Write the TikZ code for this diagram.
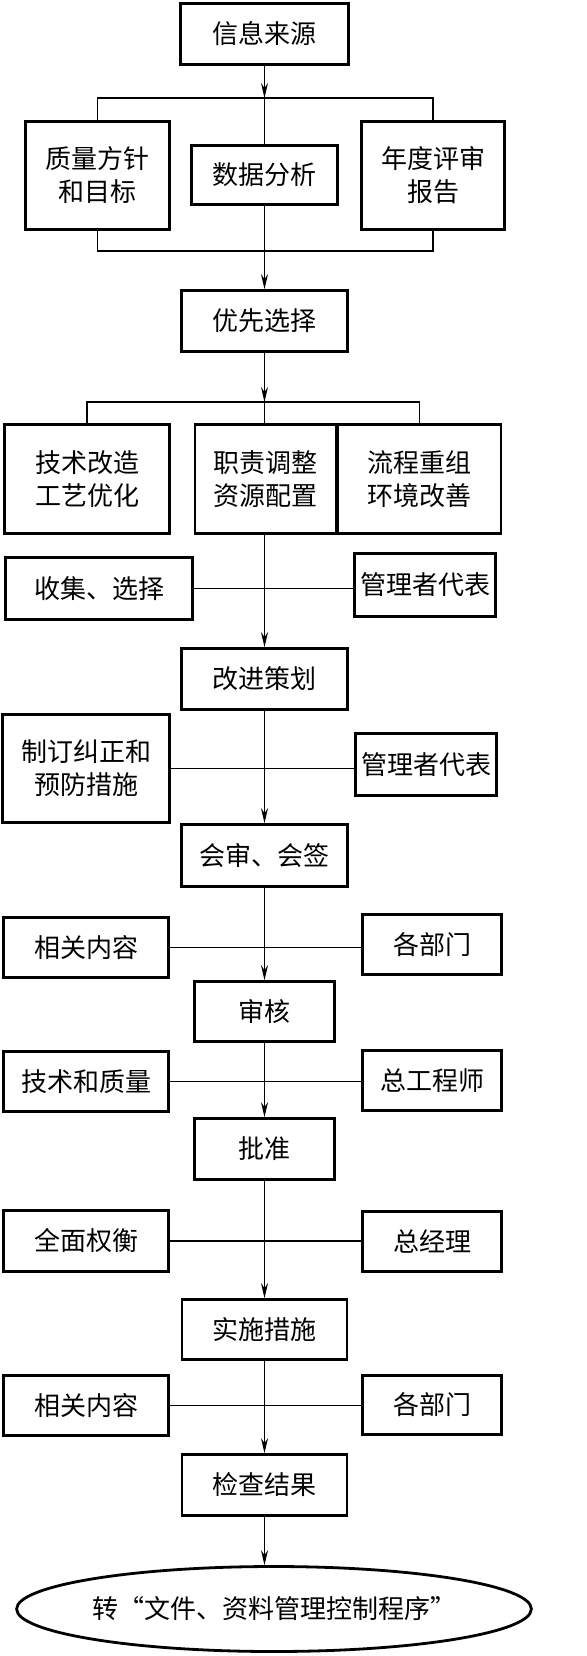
\documentclass[tikz,border=0pt]{standalone}
\usepackage{fontspec}
\newfontfamily\cjk{Noto Sans CJK SC}
\usetikzlibrary{arrows.meta,shapes.geometric}
\begin{document}
\begin{tikzpicture}[x=1pt,y=-1pt,
 box/.style={draw,line width=2.8pt,inner sep=0pt,align=center,font=\cjk\fontsize{26}{33}\selectfont},
 conn/.style={line width=1.2pt},
 arr/.style={conn,-{Stealth[length=15pt,width=7pt,inset=5pt]}}]
\useasboundingbox (0,0) rectangle (586,1656);
% top section
\node[box,minimum width=168pt,minimum height=61pt] (src) at (264.5,34) {信息来源};
\node[box,minimum width=144pt,minimum height=108pt] (q) at (97.5,175.5) {质量方针\\和目标};
\node[box,minimum width=146pt,minimum height=59pt] (d) at (264.5,175) {数据分析};
\node[box,minimum width=143pt,minimum height=108pt] (yr) at (433,175.5) {年度评审\\报告};
\node[box,minimum width=166pt,minimum height=61pt] (pri) at (264.5,321) {优先选择};
\node[box,minimum width=165pt,minimum height=109pt] (t) at (87,479) {技术改造\\工艺优化};
\node[box,minimum width=141pt,minimum height=109pt] (z) at (265.5,479) {职责调整\\资源配置};
\node[box,minimum width=163pt,minimum height=109pt] (l) at (419.5,479) {流程重组\\环境改善};
\node[box,minimum width=187pt,minimum height=62pt] (c1) at (99,588.5) {收集、选择};
\node[box,minimum width=141pt,minimum height=63pt] (m1) at (425,585) {管理者代表};
\node[box,minimum width=166pt,minimum height=61pt] (plan) at (264.5,679) {改进策划};
\node[box,minimum width=167pt,minimum height=108pt] (c2) at (86,768.5) {制订纠正和\\预防措施};
\node[box,minimum width=141pt,minimum height=62pt] (m2) at (426,764.5) {管理者代表};
\node[box,minimum width=166pt,minimum height=62pt] (hs) at (264.5,855.5) {会审、会签};
\node[box,minimum width=165pt,minimum height=60pt] (r1) at (86,947.5) {相关内容};
\node[box,minimum width=139pt,minimum height=60pt] (b1) at (432,944.5) {各部门};
\node[box,minimum width=140pt,minimum height=60pt] (sh) at (264.5,1011.5) {审核};
\node[box,minimum width=165pt,minimum height=60pt] (r2) at (86,1081.5) {技术和质量};
\node[box,minimum width=139pt,minimum height=60pt] (b2) at (432,1080.5) {总工程师};
\node[box,minimum width=140pt,minimum height=61pt] (pz) at (264.5,1149) {批准};
\node[box,minimum width=165pt,minimum height=61pt] (r3) at (86,1241) {全面权衡};
\node[box,minimum width=139pt,minimum height=60pt] (b3) at (432,1241.5) {总经理};
\node[box,minimum width=165pt,minimum height=60pt] (ss) at (264.5,1329.5) {实施措施};
\node[box,minimum width=165pt,minimum height=60pt] (r4) at (86,1405.5) {相关内容};
\node[box,minimum width=139pt,minimum height=59pt] (b4) at (432,1405) {各部门};
\node[box,minimum width=165pt,minimum height=61pt] (jc) at (264.5,1485) {检查结果};
\node[box,ellipse,minimum width=489pt,minimum height=85pt] (end) at (274,1609) {转“文件、资料管理控制程序”};
% junctions
\coordinate (j1) at (264.5,98);
\coordinate (j2) at (264.5,251);
\coordinate (j3) at (264.5,402);
% connectors
\draw[arr] (src.south) -- (j1);
\draw[conn] (q.north) -- (q.north |- j1) -- (yr.north |- j1) -- (yr.north);
\draw[conn] (j1) -- (d.north);
\draw[conn] (q.south) -- (q.south |- j2) -- (yr.south |- j2) -- (yr.south);
\draw[arr] (d.south) -- (pri.north);
\draw[arr] (pri.south) -- (j3);
\draw[conn] (t.north) -- (t.north |- j3) -- (l.north |- j3) -- (l.north);
\draw[conn] (j3) -- (j3 |- z.north);
\draw[arr] (z.south -| j3) -- (plan.north);
\draw[conn] (c1.east) -- (c1.east -| m1.west);
\draw[arr] (plan.south) -- (hs.north);
\draw[conn] (c2.east) -- (c2.east -| m2.west);
\draw[arr] (hs.south) -- (sh.north);
\draw[conn] (r1.east) -- (r1.east -| b1.west);
\draw[arr] (sh.south) -- (pz.north);
\draw[conn] (r2.east) -- (r2.east -| b2.west);
\draw[arr] (pz.south) -- (ss.north);
\draw[conn] (r3.east) -- (r3.east -| b3.west);
\draw[arr] (ss.south) -- (jc.north);
\draw[conn] (r4.east) -- (r4.east -| b4.west);
\draw[arr] (jc.south) -- (jc.south |- end.north);
\end{tikzpicture}
\end{document}
